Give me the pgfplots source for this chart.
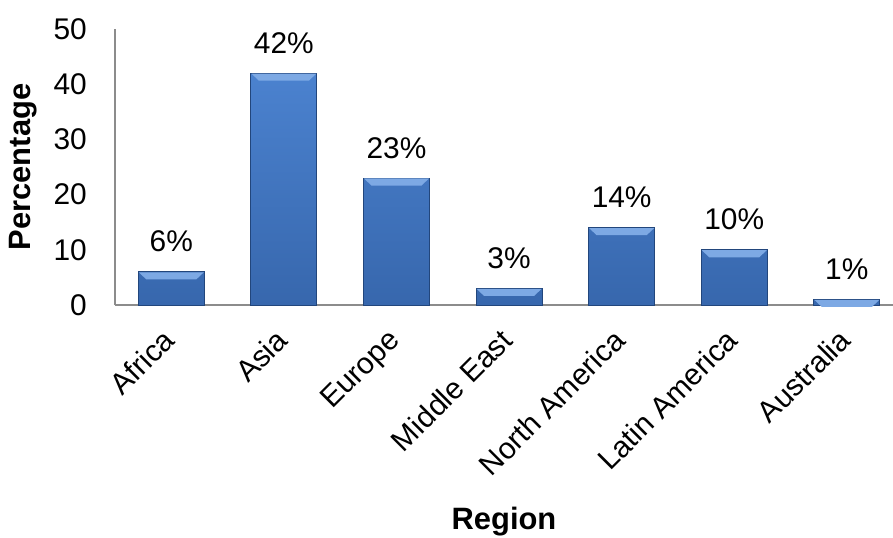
\documentclass[border=0pt]{standalone}
\usepackage{pgfplots}
\pgfplotsset{compat=1.18}
\usepackage{fontspec}
\setmainfont{Liberation Sans}
\definecolor{barTop}{HTML}{4B82CF}
\definecolor{barBot}{HTML}{3767AD}
\definecolor{barEdge}{HTML}{22467C}
\definecolor{barLight}{HTML}{7DA9E4}
\definecolor{axisGray}{HTML}{8C8C8C}
\pgfdeclareplotmark{bevel}{%
  \pgfpathmoveto{\pgfpoint{-32.5bp}{-0.4bp}}%
  \pgfpathlineto{\pgfpoint{32.5bp}{-0.4bp}}%
  \pgfpathlineto{\pgfpoint{25bp}{-7.5bp}}%
  \pgfpathlineto{\pgfpoint{-25bp}{-7.5bp}}%
  \pgfpathclose
  \pgfusepathqfill
}
\begin{document}
\begin{tikzpicture}
\begin{axis}[
  scale only axis,
  width=778bp, height=276bp,
  xmin=-0.5, xmax=6.41,
  ymin=0, ymax=50,
  ytick={0,10,20,30,40,50},
  xtick={0,1,2,3,4,5,6},
  xticklabels={Africa,Asia,Europe,Middle East,North America,Latin America,Australia},
  axis lines*=left,
  axis line style={axisGray, line width=1.3bp},
  major tick length=0pt,
  tick label style={font=\fontsize{30}{36}\selectfont},
  /pgf/number format/assume math mode=true,
  yticklabel style={inner sep=0pt, anchor=east},
  yticklabel shift=28bp,
  xticklabel style={xshift=-10bp, rotate=45, anchor=north east, inner sep=0pt},
  xticklabel shift=22bp,
  xlabel={\textbf{Region}},
  ylabel={\textbf{Percentage}},
  label style={font=\fontsize{31}{36}\selectfont},
  xlabel style={at={(axis description cs:0.5,-0.815)}, anchor=base},
  ylabel style={at={(axis description cs:-0.118,0.5)}, anchor=center, rotate=0},
  clip=false,
]
\addplot[ybar, bar width=0.586, bar shift=0pt,
  top color=barTop, bottom color=barBot, draw=barEdge, line width=0.8bp,
  nodes near coords={\pgfmathprintnumber{\pgfplotspointmeta}\%},
  every node near coord/.append style={font=\fontsize{30}{36}\selectfont, anchor=base, inner sep=0pt, yshift=20bp, text=black}]
  coordinates {(0,6) (1,42) (2,23) (3,3) (4,14) (5,10) (6,1)};
\addplot[only marks, mark=bevel, mark options={fill=barLight, draw=none}]
  coordinates {(0,6) (1,42) (2,23) (3,3) (4,14) (5,10) (6,1)};
\end{axis}
\pgfresetboundingbox
\path[use as bounding box] (-115bp,-233bp) rectangle (778bp,305bp);
\end{tikzpicture}
\end{document}
